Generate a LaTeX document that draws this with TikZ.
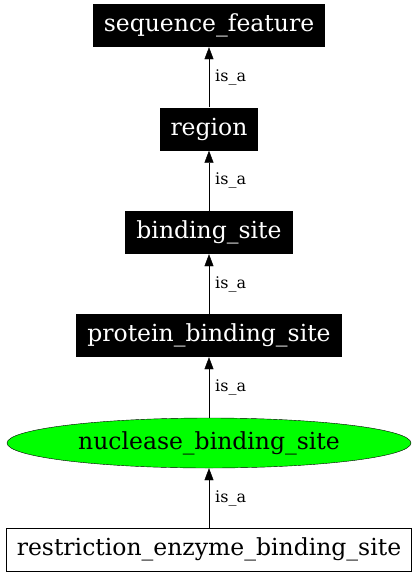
\documentclass[tikz,border=0pt]{standalone}
\usepackage{fontspec}
\setmainfont{DejaVu Serif}
\usetikzlibrary{shapes.geometric,arrows.meta}
\begin{document}
\begin{tikzpicture}[x=1pt,y=-1pt,
  termbox/.style={fill=black,text=white,inner sep=0pt,font=\fontsize{23.5}{28}\selectfont},
  leafbox/.style={draw=black,fill=white,inner sep=0pt,font=\fontsize{23.5}{28}\selectfont},
  focus/.style={ellipse,draw=black,fill=green,inner sep=0pt,font=\fontsize{23.5}{28}\selectfont},
  isa/.style={draw=black,-{Triangle[length=12pt,width=9pt]}},
  lbl/.style={font=\fontsize{16}{18}\selectfont,anchor=west,inner sep=0pt}]
\useasboundingbox (0,0) rectangle (418,576);
\node[termbox,minimum width=232pt,minimum height=43pt] (sf) at (209,25.5) {sequence\_feature};
\node[termbox,minimum width=98pt,minimum height=43pt] (rg) at (209,129) {region};
\node[termbox,minimum width=168pt,minimum height=43pt] (bs) at (209,232.5) {binding\_site};
\node[termbox,minimum width=266pt,minimum height=43pt] (pbs) at (209,335.5) {protein\_binding\_site};
\node[focus,minimum width=404pt,minimum height=50pt] (nbs) at (209,443) {nuclease\_binding\_site};
\node[leafbox,minimum width=405pt,minimum height=43pt] (rebs) at (209,549.5) {restriction\_enzyme\_binding\_site};
\draw[isa] (rg) -- node[lbl,xshift=6pt] {is\_a} (sf);
\draw[isa] (bs) -- node[lbl,xshift=6pt] {is\_a} (rg);
\draw[isa] (pbs) -- node[lbl,xshift=6pt] {is\_a} (bs);
\draw[isa] (nbs) -- node[lbl,xshift=6pt] {is\_a} (pbs);
\draw[isa] (rebs) -- node[lbl,xshift=6pt] {is\_a} (nbs);
\end{tikzpicture}
\end{document}
